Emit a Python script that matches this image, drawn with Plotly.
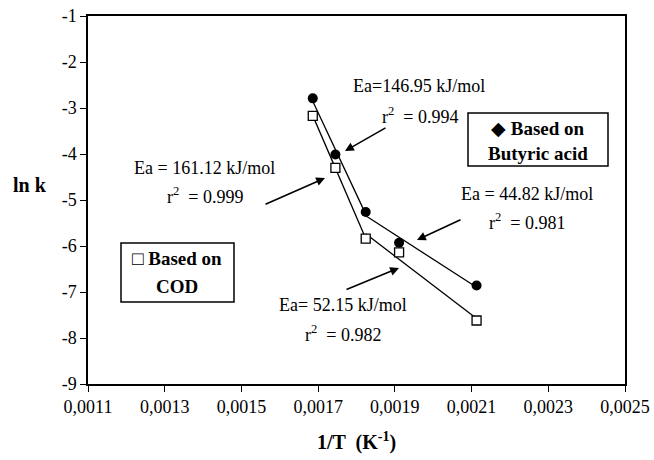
import numpy as np
import plotly.graph_objects as go

# ---------------- data ----------------
inv_T = [0.001686, 0.001745, 0.001824, 0.001911, 0.002113]
lnk_butyric = [-2.79, -4.01, -5.26, -5.93, -6.86]
lnk_cod = [-3.17, -4.30, -5.84, -6.14, -7.62]
segments = [[0, 1, 2], [2, 3, 4]]

x_ticks = [0.0011, 0.0013, 0.0015, 0.0017, 0.0019, 0.0021, 0.0023, 0.0025]
x_tick_labels = ["0,0011", "0,0013", "0,0015", "0,0017", "0,0019", "0,0021", "0,0023", "0,0025"]
y_ticks = [-1, -2, -3, -4, -5, -6, -7, -8, -9]
y_tick_labels = ["-1", "-2", "-3", "-4", "-5", "-6", "-7", "-8", "-9"]

fit_labels = [
    ("Ea=146.95 kJ/mol", "r<sup>2</sup>  = 0.994"),
    ("Ea = 161.12 kJ/mol", "r<sup>2</sup>  = 0.999"),
    ("Ea = 44.82 kJ/mol", "r<sup>2</sup>  = 0.981"),
    ("Ea= 52.15 kJ/mol", "r<sup>2</sup>  = 0.982"),
]

# ---------------- layout geometry ----------------
OFF = 0                      # body margin removed by post_script
W, H = 654, 460
L, R, T, B = 88, 29, 16, 76
PW, PH = W - L - R, H - T - B
FONT = "Liberation Serif"


def px(x):
    return (x - OFF - L) / PW


def py(y):
    return (H - B - (y - OFF)) / PH


def dx(x):
    return x_ticks[0] + px(x) * (x_ticks[-1] - x_ticks[0])


def dy(y):
    return y_ticks[-1] + py(y) * (y_ticks[0] - y_ticks[-1])


fig = go.Figure()

# regression segments
for series in (lnk_butyric, lnk_cod):
    for seg in segments:
        xs = np.array([inv_T[i] for i in seg])
        ys = np.array([series[i] for i in seg])
        m, c = np.polyfit(xs, ys, 1)
        xe = np.array([xs[0], xs[-1]])
        fig.add_trace(go.Scatter(x=xe, y=m * xe + c, mode="lines",
                                 line=dict(color="black", width=1.3),
                                 showlegend=False, hoverinfo="skip"))

fig.add_trace(go.Scatter(x=inv_T, y=lnk_butyric, mode="markers", name="Based on Butyric acid",
                         marker=dict(symbol="circle", size=10, color="black"),
                         showlegend=False))
fig.add_trace(go.Scatter(x=inv_T, y=lnk_cod, mode="markers", name="Based on COD",
                         marker=dict(symbol="square", size=9, color="white",
                                     line=dict(color="black", width=1.3)),
                         showlegend=False))

ann = []
shapes = []

# text labels (pixel centres in the page)
text_pos = [((419, 86), (420, 115)), ((204, 168), (205, 195)),
            ((527, 194), (527, 221)), ((343, 305), (343, 333))]
for (l1, l2), (p1, p2) in zip(fit_labels, text_pos):
    for t, p in ((l1, p1), (l2, p2)):
        ann.append(dict(text=t, x=px(p[0]), y=py(p[1]), xref="paper", yref="paper",
                        showarrow=False, xanchor="center", yanchor="middle",
                        font=dict(family=FONT, size=18, color="black")))

# arrows: (tail, head) in page pixels
arrows = [((387, 127), (345, 151)), ((264, 205), (325, 178)),
          ((462, 219), (417, 240)), ((345, 290), (399, 268))]
for tail, head in arrows:
    ann.append(dict(text="", x=dx(head[0]), y=dy(head[1]), ax=dx(tail[0]), ay=dy(tail[1]),
                    xref="x", yref="y", axref="x", ayref="y", showarrow=True,
                    arrowhead=2, arrowsize=1.1, arrowwidth=1.6, arrowcolor="black"))

# legend boxes
legend_boxes = [
    ((121, 243, 234, 302), ["□ <b>Based on</b>", "<b>COD</b>"], (177, 258), (177, 286)),
    ((468, 113, 608, 166), ["◆ <b>Based on</b>", "<b>Butyric acid</b>"], (538, 128), (538, 153)),
]
for (x0, y0, x1, y1), lines, c1, c2 in legend_boxes:
    shapes.append(dict(type="rect", xref="paper", yref="paper", x0=px(x0), x1=px(x1),
                       y0=py(y1), y1=py(y0), line=dict(color="black", width=1.5),
                       fillcolor="white", layer="below"))
    for t, p in zip(lines, (c1, c2)):
        ann.append(dict(text=t, x=px(p[0]), y=py(p[1]), xref="paper", yref="paper",
                        showarrow=False, xanchor="center", yanchor="middle",
                        font=dict(family=FONT, size=19, color="black")))

# axis titles
ann.append(dict(text="<b>ln k</b>", x=px(30), y=py(185), xref="paper", yref="paper",
                showarrow=False, xanchor="center", yanchor="middle",
                font=dict(family=FONT, size=20, color="black")))
ann.append(dict(text="<b>1/T  (K<sup>-1</sup>)</b>", x=px(356), y=py(441), xref="paper", yref="paper",
                showarrow=False, xanchor="center", yanchor="middle",
                font=dict(family=FONT, size=20, color="black")))

fig.update_layout(
    width=W, height=H, autosize=False,
    margin=dict(l=L, r=R, t=T, b=B),
    plot_bgcolor="white", paper_bgcolor="white",
    annotations=ann, shapes=shapes,
    font=dict(family=FONT, size=18, color="black"),
)
fig.update_xaxes(range=[x_ticks[0], x_ticks[-1]], tickvals=x_ticks, ticktext=x_tick_labels,
                 showgrid=False, zeroline=False, showline=True, mirror=True, automargin=False,
                 ticklabeloverflow="allow",
                 linecolor="black", linewidth=1.5, ticks="outside", ticklen=6,
                 tickcolor="black", tickfont=dict(family=FONT, size=18))
fig.update_yaxes(range=[y_ticks[-1], y_ticks[0]], tickvals=y_ticks, ticktext=y_tick_labels,
                 showgrid=False, zeroline=False, showline=True, mirror=True, automargin=False,
                 ticklabeloverflow="allow",
                 linecolor="black", linewidth=1.5, ticks="outside", ticklen=6,
                 tickcolor="black", tickfont=dict(family=FONT, size=18))

fig.write_html("out.html", config={"displayModeBar": False},
               post_script="document.body.style.margin='0';document.body.style.overflow='hidden';")
